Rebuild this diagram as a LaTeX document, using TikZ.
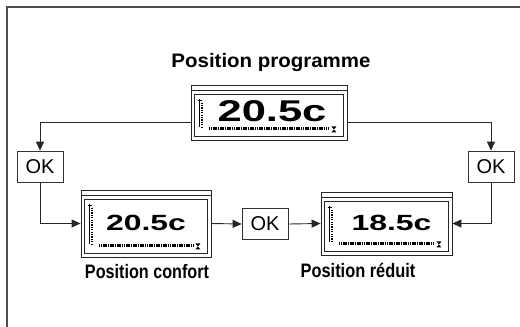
\documentclass[tikz,border=0pt]{standalone}
\usepackage{fontspec}
\setmainfont{Liberation Sans}
\usetikzlibrary{arrows.meta,calc}
\tikzset{
  x=1pt,y=-1pt,
  lcdout/.style={draw=black!85,line width=0.9pt,inner sep=0pt},
  lcdline/.style={draw=black!85,line width=0.8pt},
  okbox/.style={draw=black!80,line width=0.7pt,minimum width=46pt,minimum height=31pt,inner sep=0pt,font=\fontsize{20}{20}\selectfont},
  lbl/.style={inner sep=0pt,font=\fontsize{19.5}{19.5}\selectfont\bfseries},
  conn/.style={draw=black!85,line width=0.9pt,-{Triangle[length=9pt,width=8pt]}},
}
\newcommand\lcddisp[8]{%
  \node[lcdout,minimum width=#4pt,minimum height=#5pt] (#1) at (#2,#3) {};
  \draw[lcdline] ($(#1.north west)+(0,6)$) -- ($(#1.north east)+(0,6)$);
  \coordinate (#1-a) at ($(#1.north west)+(4,10)$);
  \coordinate (#1-b) at ($(#1.south east)+(-4,-4)$);
  \draw[lcdline] (#1-a) rectangle (#1-b);
  \coordinate (#1-c) at (#1-a |- #1-b);
  \draw[line width=0.8pt] ($(#1-a)+(5,4)$) -- ($(#1-c)+(5,-9)$);
  \draw[line width=0.8pt] ($(#1-a)+(3,6)$) -- ($(#1-a)+(7,6)$);
  \draw[line width=1.8pt,dash pattern=on 1.2pt off 1.2pt] ($(#1-a)+(7.5,8)$) -- ($(#1-c)+(7.5,-9)$);
  \draw[line width=2.6pt,dash pattern=on 1.6pt off 0.7pt] ($(#1-c)+(14,-8)$) -- ($(#1-b)+(-14,-8)$);
  \fill ($(#1-b)+(-12,-10)$) -- ($(#1-b)+(-7,-10)$) -- ($(#1-b)+(-9.5,-7)$) -- cycle;
  \fill ($(#1-b)+(-12,-4)$) -- ($(#1-b)+(-7,-4)$) -- ($(#1-b)+(-9.5,-7)$) -- cycle;
  \node[inner sep=0pt,font=\fontsize{#7}{#7}\selectfont\bfseries] (#1-t) at ($(#1.center)+(#8,-1)$) {\scalebox{1.45}[1]{#6}};
}
\begin{document}
\begin{tikzpicture}
\useasboundingbox (0,0) rectangle (520,327);
\draw[draw=black!70,line width=1.4pt] (520,7) -- (7,7) -- (7,327);

\node[lbl] (tl) at (271,62) {\scalebox{1.05}[1]{Position programme}};
\lcddisp{top}{269}{112.5}{156}{55}{20.5c}{30}{3}
\lcddisp{lcdL}{146}{223.5}{130}{67}{20.5c}{22}{0}
\lcddisp{lcdR}{386.5}{223.5}{131}{63}{18.5c}{22}{5}
\node[lbl] (ll) at (147,272) {\scalebox{0.83}[1]{Position confort}};
\node[lbl] (lr) at (358,270) {\scalebox{0.84}[1]{Position réduit}};

\node[okbox] (okL) at (40,166.5) {OK};
\node[okbox] (okR) at (491,166.5) {OK};
\node[okbox] (okM) at (265,224) {OK};

\draw[conn] ([yshift=-10pt]top.west) -| (okL.north);
\draw[conn] (okL.south) |- (lcdL.west);
\draw[conn] ([yshift=-10pt]top.east) -| (okR.north);
\draw[conn] (okR.south) |- (lcdR.east);
\draw[conn] (lcdL.east) -- (okM.west);
\draw[conn] (okM.east) -- (lcdR.west);
\end{tikzpicture}
\end{document}
